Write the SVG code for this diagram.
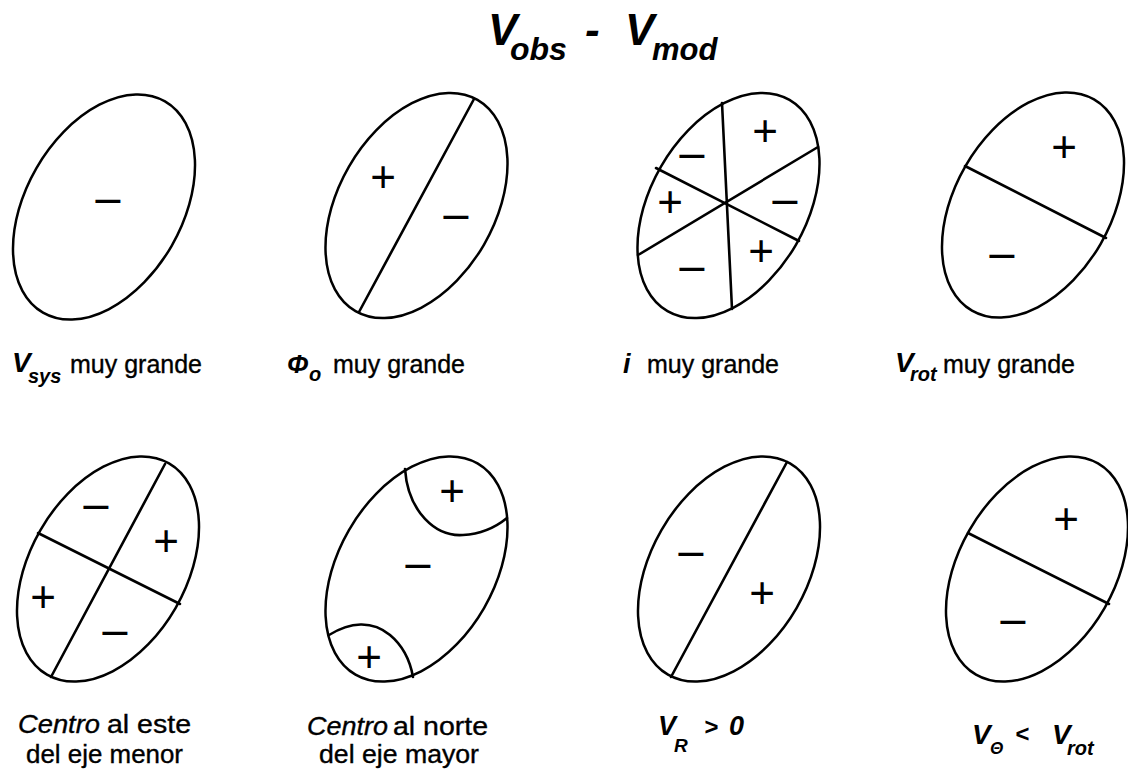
<svg xmlns="http://www.w3.org/2000/svg" width="1128" height="770" viewBox="0 0 1128 770">
<style>
.bg{fill:#fff}
.el{fill:none;stroke:#000;stroke-width:2.5}
.ln{fill:none;stroke:#000;stroke-width:2.6;stroke-linecap:round}
.sg{font-family:"Liberation Sans",Arial,sans-serif;font-size:44px;text-anchor:middle;fill:#000}
.bi{font-family:"Liberation Sans",Arial,sans-serif;font-weight:bold;font-style:italic;fill:#000}
.lb{font-family:"Liberation Sans",Arial,sans-serif;font-size:25px;fill:#000;stroke:#000;stroke-width:0.35}
.it{font-style:italic}
</style>
<defs>
<ellipse id="ell" cx="0" cy="0" rx="78" ry="122" transform="rotate(30)"/>
</defs>
<rect class="bg" x="0" y="0" width="1128" height="770"/>

<g id="title">
<text class="bi"><tspan x="488" y="45" font-size="44">V</tspan><tspan x="510" y="60" font-size="32">obs</tspan><tspan x="585" y="45" font-size="44">-</tspan><tspan x="625" y="45" font-size="44">V</tspan><tspan x="652" y="60" font-size="31">mod</tspan></text>
</g>

<g id="connectors"></g>

<g id="n1">
<use href="#ell" class="el" x="104" y="207"/>
<text class="sg" x="108" y="216" textLength="30" lengthAdjust="spacingAndGlyphs">−</text>
<text class="bi"><tspan x="12" y="372" font-size="28">V</tspan><tspan x="28" y="383" font-size="20">sys</tspan></text>
<text class="lb" x="70" y="373">muy grande</text>
</g>

<g id="n2">
<use href="#ell" class="el" x="416.5" y="205.5"/>
<line class="ln" x1="474" y1="99" x2="359" y2="312"/>
<text class="sg" x="383" y="192">+</text>
<text class="sg" x="456" y="232" textLength="30" lengthAdjust="spacingAndGlyphs">−</text>
<text class="bi"><tspan x="287" y="373" font-size="26">Φ</tspan><tspan x="309" y="381" font-size="20">o</tspan></text>
<text class="lb" x="333" y="373">muy grande</text>
</g>

<g id="n3">
<use href="#ell" class="el" x="728.5" y="205.5"/>
<line class="ln" x1="722" y1="103" x2="732" y2="309"/>
<line class="ln" x1="818" y1="147" x2="638" y2="255"/>
<line class="ln" x1="656" y1="168" x2="799" y2="241"/>
<text class="sg" x="765" y="146">+</text>
<text class="sg" x="692" y="171" textLength="30" lengthAdjust="spacingAndGlyphs">−</text>
<text class="sg" x="670" y="217">+</text>
<text class="sg" x="785" y="217" textLength="30" lengthAdjust="spacingAndGlyphs">−</text>
<text class="sg" x="761" y="266">+</text>
<text class="sg" x="692" y="284" textLength="30" lengthAdjust="spacingAndGlyphs">−</text>
<text class="bi" x="623" y="373" font-size="27">i</text>
<text class="lb" x="647" y="373">muy grande</text>
</g>

<g id="n4">
<use href="#ell" class="el" x="1033" y="205"/>
<line class="ln" x1="965" y1="166" x2="1106" y2="238"/>
<text class="sg" x="1064" y="162">+</text>
<text class="sg" x="1002" y="271" textLength="30" lengthAdjust="spacingAndGlyphs">−</text>
<text class="bi"><tspan x="895" y="372" font-size="28">V</tspan><tspan x="910" y="381" font-size="20">rot</tspan></text>
<text class="lb" x="943" y="373">muy grande</text>
</g>

<g id="n5">
<use href="#ell" class="el" x="108" y="569"/>
<line class="ln" x1="165" y1="464" x2="51" y2="677"/>
<line class="ln" x1="38" y1="533" x2="180" y2="604"/>
<text class="sg" x="96" y="522" textLength="30" lengthAdjust="spacingAndGlyphs">−</text>
<text class="sg" x="166" y="556">+</text>
<text class="sg" x="43" y="612">+</text>
<text class="sg" x="115" y="648" textLength="30" lengthAdjust="spacingAndGlyphs">−</text>
<text class="lb it" x="18" y="733" textLength="82" lengthAdjust="spacingAndGlyphs">Centro</text>
<text class="lb" x="107" y="733" textLength="84" lengthAdjust="spacingAndGlyphs">al este</text>
<text class="lb" x="26" y="763" textLength="157" lengthAdjust="spacingAndGlyphs">del eje menor</text>
</g>

<g id="n6">
<use href="#ell" class="el" x="416.5" y="569"/>
<path class="ln" d="M405,469 C408,512 436,537 463,535 C481,534 496,527 507,518"/>
<path class="ln" d="M329,635 C350,622 372,620 390,635 C402,645 410,660 413,677"/>
<text class="sg" x="452" y="506">+</text>
<text class="sg" x="418" y="581" textLength="30" lengthAdjust="spacingAndGlyphs">−</text>
<text class="sg" x="369" y="672">+</text>
<text class="lb it" x="307" y="735" textLength="81" lengthAdjust="spacingAndGlyphs">Centro</text>
<text class="lb" x="393" y="735" textLength="95" lengthAdjust="spacingAndGlyphs">al norte</text>
<text class="lb" x="319" y="763" textLength="160" lengthAdjust="spacingAndGlyphs">del eje mayor</text>
</g>

<g id="n7">
<use href="#ell" class="el" x="729" y="569"/>
<line class="ln" x1="787" y1="462" x2="671" y2="677"/>
<text class="sg" x="691" y="569" textLength="30" lengthAdjust="spacingAndGlyphs">−</text>
<text class="sg" x="762" y="608">+</text>
<text class="bi"><tspan x="658" y="735" font-size="27">V</tspan><tspan x="674" y="752" font-size="19">R</tspan><tspan x="704" y="735" font-size="24">&gt;</tspan><tspan x="729" y="735" font-size="27">0</tspan></text>
</g>

<g id="n8">
<use href="#ell" class="el" x="1037" y="569"/>
<line class="ln" x1="968" y1="533" x2="1109" y2="604"/>
<text class="sg" x="1066" y="534">+</text>
<text class="sg" x="1013" y="637" textLength="30" lengthAdjust="spacingAndGlyphs">−</text>
<text class="bi"><tspan x="972" y="744" font-size="28">V</tspan><tspan x="990" y="754" font-size="17">Θ</tspan><tspan x="1015" y="742" font-size="24">&lt;</tspan><tspan x="1052" y="744" font-size="28">V</tspan><tspan x="1067" y="755" font-size="20">rot</tspan></text>
</g>
</svg>
